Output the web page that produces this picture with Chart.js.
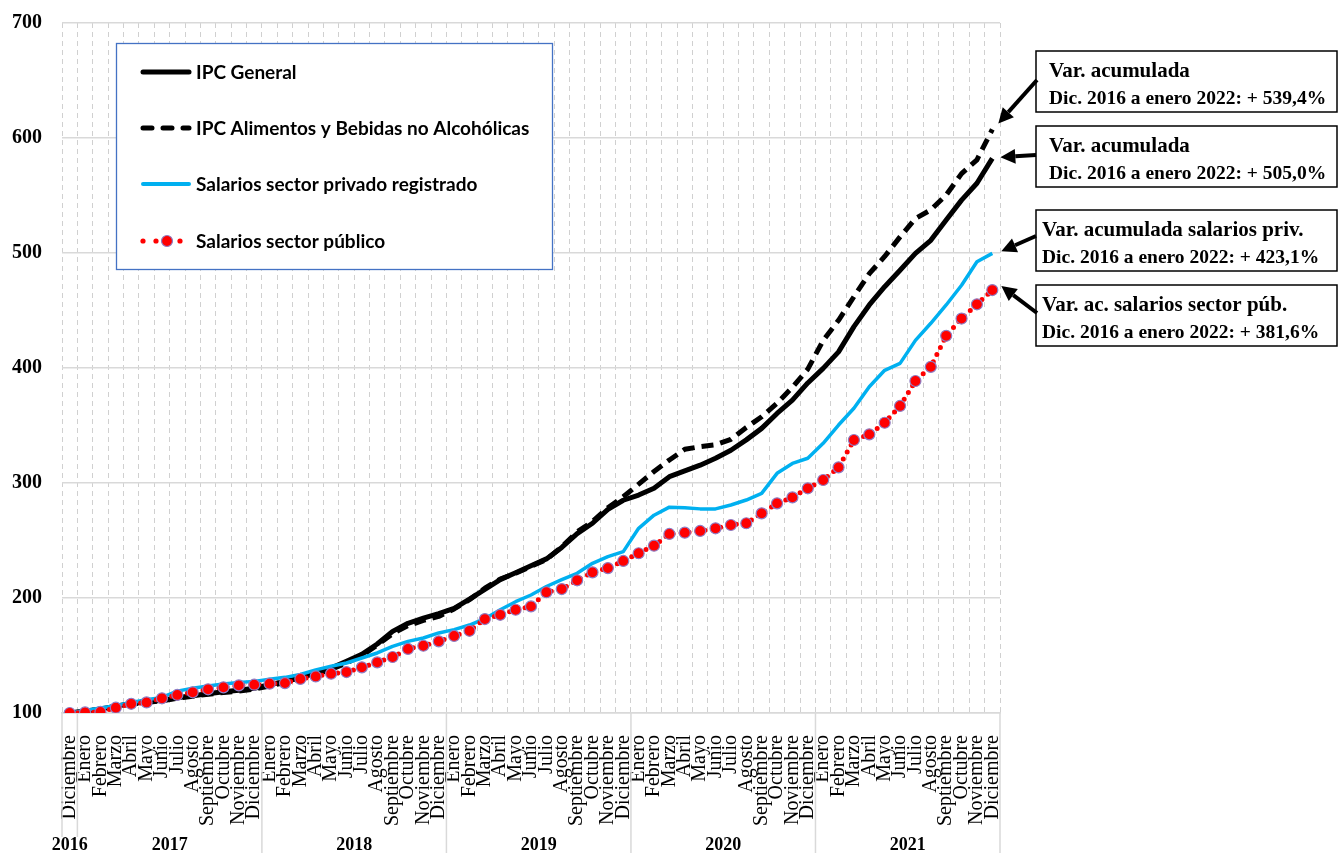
<!DOCTYPE html>
<html>
<head>
<meta charset="utf-8">
<script src="https://cdn.jsdelivr.net/npm/chart.js@4.4.1/dist/chart.umd.min.js"></script>
<style>
  html, body { margin: 0; padding: 0; background: #ffffff; }
  #wrap { width: 1340px; height: 853px; }
</style>
</head>
<body>
<div id="wrap"><canvas id="chart" width="1340" height="853"></canvas></div>
<script>
// ---- Categories ----
const monthNames = ['Enero', 'Febrero', 'Marzo', 'Abril', 'Mayo', 'Junio', 'Julio',
  'Agosto', 'Septiembre', 'Octubre', 'Noviembre', 'Diciembre'];
const years = ['2016', '2017', '2018', '2019', '2020', '2021'];
const monthsPerYear = [1, 12, 12, 12, 12, 12];
const categories = years.flatMap((y, k) => monthNames.slice(12 - monthsPerYear[k]));

// ---- Index values, Dic. 2016 = 100 ----
const ipcGeneral = [
  100,
  101.5, 103.5, 105.8, 108.2, 109.6, 111.0, 113.2, 115.0, 116.8, 118.5, 119.8, 121.5,
  124.6, 127.5, 130.4, 134.8, 139.1, 144.9, 151.0, 160.0, 171.0, 178.0, 182.5, 186.5,
  191.0, 199.0, 207.5, 216.0, 222.0, 228.0, 234.0, 244.0, 256.0, 265.0, 277.0, 285.0,
  289.5, 295.5, 305.5, 310.5, 315.5, 321.5, 328.5, 337.5, 347.5, 360.5, 372.0, 387.0,
  399.7, 414.0, 436.0, 454.8, 470.7, 485.0, 499.7, 511.0, 528.7, 546.0, 560.6, 582.3
];
const ipcAlimentos = [
  100,
  101.3, 103.2, 105.6, 107.9, 109.2, 110.6, 112.8, 114.6, 116.3, 117.8, 119.0, 120.8,
  123.5, 126.5, 129.5, 133.5, 138.0, 143.5, 150.0, 159.0, 169.0, 176.0, 180.5, 184.0,
  190.5, 198.5, 208.5, 216.5, 221.5, 227.5, 233.5, 244.5, 257.5, 266.5, 278.5, 288.0,
  299.0, 310.0, 320.0, 329.3, 331.6, 333.2, 338.0, 348.3, 357.6, 369.3, 383.2, 399.0,
  424.0, 441.5, 462.0, 482.0, 497.0, 514.0, 530.0, 537.5, 550.5, 569.0, 581.0, 607.5
];
const salPrivado = [
  100,
  102.3, 104.3, 106.3, 109.2, 111.6, 113.6, 119.0, 121.5, 123.5, 125.3, 126.5, 127.5,
  129.3, 131.0, 133.5, 137.5, 140.6, 143.5, 147.8, 152.2, 158.0, 162.3, 165.2, 169.6,
  172.5, 176.5, 182.0, 189.8, 196.8, 202.6, 210.0, 215.9, 221.5, 230.2, 236.0, 240.3,
  260.6, 272.0, 279.0, 278.5, 277.5, 277.5, 280.9, 285.2, 291.0, 308.4, 317.0, 321.5,
  334.5, 350.4, 365.0, 383.7, 398.0, 404.0, 424.0, 438.9, 454.8, 472.0, 492.4, 499.7
];
const salPublico = [
  100,
  100.5, 100.9, 104.6, 108.0, 109.2, 112.8, 115.7, 118.0, 120.6, 122.3, 124.0, 124.6,
  125.5, 126.0, 129.6, 131.8, 134.2, 135.6, 139.7, 144.0, 148.7, 155.7, 158.5, 162.3,
  167.0, 171.5, 181.7, 185.4, 189.8, 192.7, 205.0, 207.8, 215.4, 222.3, 226.0, 232.2,
  238.9, 245.5, 255.7, 256.8, 258.3, 260.6, 263.5, 265.0, 273.6, 282.3, 287.5, 295.4,
  302.6, 313.6, 337.4, 342.3, 352.4, 367.0, 388.7, 401.0, 428.0, 443.0, 455.4, 467.8
];

// ---- Axis ticks ----
const yTicks = [100, 200, 300, 400, 500, 600, 700];

// ---- Series names and callout texts ----
const seriesNames = ['IPC General', 'IPC Alimentos y Bebidas no Alcohólicas',
  'Salarios sector privado registrado', 'Salarios sector público'];
const calloutTitles = ['Var. acumulada', 'Var. acumulada',
  'Var. acumulada salarios priv.', 'Var. ac. salarios sector púb.'];
const calloutDetails = ['Dic. 2016 a enero 2022: + 539,4%', 'Dic. 2016 a enero 2022: + 505,0%',
  'Dic. 2016 a enero 2022: + 423,1%', 'Dic. 2016 a enero 2022: + 381,6%'];
const calloutSeries = [1, 0, 2, 3];   // dataset each callout points to

const SERIF = '"Liberation Serif", "Times New Roman", serif';
const SANS = 'Lato, "Open Sans", sans-serif';

// Legend panel drawn inside the plot
function drawLegend(chart) {
  const ctx = chart.ctx;
  const box = { x: 116, y: 43, w: 436, h: 226 };
  const rows = [72, 128, 184, 241];
  ctx.save();
  ctx.fillStyle = '#ffffff';
  ctx.fillRect(box.x, box.y, box.w, box.h);
  ctx.strokeStyle = '#4472c4';
  ctx.lineWidth = 1.3;
  ctx.strokeRect(box.x + 0.5, box.y + 0.5, box.w, box.h);
  const x0 = 141, x1 = 191;
  chart.data.datasets.forEach((ds, i) => {
    const y = rows[i];
    ctx.save();
    if (i < 3) {
      ctx.beginPath();
      ctx.strokeStyle = ds.borderColor;
      ctx.lineWidth = i === 2 ? 4 : 5;
      ctx.lineCap = 'round';
      ctx.setLineDash(i === 1 ? [9, 11] : []);
      ctx.moveTo(x0 + 2, y);
      ctx.lineTo(x1 - 2, y);
      ctx.stroke();
    } else {
      ctx.fillStyle = ds.borderColor;
      [143, 156, 180].forEach(cx => {
        ctx.beginPath(); ctx.arc(cx, y, 2.6, 0, Math.PI * 2); ctx.fill();
      });
      ctx.beginPath();
      ctx.arc(167, y, 5.5, 0, Math.PI * 2);
      ctx.fillStyle = ds.pointBackgroundColor;
      ctx.fill();
      ctx.lineWidth = 1.2;
      ctx.strokeStyle = ds.pointBorderColor;
      ctx.stroke();
    }
    ctx.restore();
    ctx.fillStyle = '#000000';
    ctx.font = 'bold 19px ' + SANS;
    ctx.textAlign = 'left';
    ctx.textBaseline = 'middle';
    ctx.fillText(ds.label, 196, y + 1);
  });
  ctx.restore();
}

// Year bands under the month labels
function drawYears(chart) {
  const ctx = chart.ctx, xs = chart.scales.x, area = chart.chartArea;
  const step = xs.getPixelForValue(1) - xs.getPixelForValue(0);
  const edges = [];
  const centers = [];
  let start = 0;
  years.forEach((y, k) => {
    const end = start + monthsPerYear[k] - 1;
    const a = xs.getPixelForValue(start) - step / 2;
    const b = xs.getPixelForValue(end) + step / 2;
    edges.push(a);
    if (k === years.length - 1) edges.push(b);
    centers.push((a + b) / 2);
    start = end + 1;
  });
  ctx.save();
  ctx.strokeStyle = '#d9d9d9';
  ctx.lineWidth = 1.5;
  edges.forEach(x => {
    ctx.beginPath();
    ctx.moveTo(x, area.bottom);
    ctx.lineTo(x, chart.height);
    ctx.stroke();
  });
  ctx.font = 'bold 18px ' + SERIF;
  ctx.textAlign = 'center';
  ctx.textBaseline = 'middle';
  years.forEach((y, k) => {
    const w = ctx.measureText(y).width;
    ctx.fillStyle = '#ffffff';
    ctx.fillRect(centers[k] - w / 2 - 1, 837, w + 2, 16);
    ctx.fillStyle = '#000000';
    ctx.fillText(y, centers[k], 845);
  });
  ctx.restore();
}

function arrow(ctx, x1, y1, x2, y2) {
  const ang = Math.atan2(y2 - y1, x2 - x1);
  const head = 15, half = 7.5;
  const bx = x2 - head * Math.cos(ang), by = y2 - head * Math.sin(ang);
  ctx.beginPath();
  ctx.moveTo(x1, y1);
  ctx.lineTo(bx, by);
  ctx.lineWidth = 4;
  ctx.strokeStyle = '#000000';
  ctx.stroke();
  ctx.beginPath();
  ctx.moveTo(x2, y2);
  ctx.lineTo(bx + half * Math.sin(ang), by - half * Math.cos(ang));
  ctx.lineTo(bx - half * Math.sin(ang), by + half * Math.cos(ang));
  ctx.closePath();
  ctx.fillStyle = '#000000';
  ctx.fill();
}

// Callout boxes with arrows toward the last point of each series
function drawCallouts(chart) {
  const ctx = chart.ctx, xs = chart.scales.x, ys = chart.scales.y;
  const boxTops = [51, 126, 210, 285];
  const textLeft = [1049, 1049, 1042, 1042];
  const tails = [[1037, 80], [1036, 155], [1036, 236], [1037, 313]];
  const tipOffsets = [[6, -6], [8, -1], [9, -2], [9, -4]];
  const left = 1036, right = 1337, h = 61;
  ctx.save();
  calloutTitles.forEach((t, k) => {
    const top = boxTops[k];
    ctx.fillStyle = '#ffffff';
    ctx.fillRect(left, top, right - left, h);
    ctx.lineWidth = 1.5;
    ctx.strokeStyle = '#000000';
    ctx.strokeRect(left, top, right - left, h);
    ctx.fillStyle = '#000000';
    ctx.textAlign = 'left';
    ctx.textBaseline = 'alphabetic';
    ctx.font = 'bold 21px ' + SERIF;
    ctx.fillText(t, textLeft[k], top + 26);
    ctx.font = 'bold 19.5px ' + SERIF;
    ctx.fillText(calloutDetails[k], textLeft[k], top + 53);

    const ds = chart.data.datasets[calloutSeries[k]];
    const last = ds.data.length - 1;
    const px = xs.getPixelForValue(last) + tipOffsets[k][0];
    const py = ys.getPixelForValue(ds.data[last]) + tipOffsets[k][1];
    arrow(ctx, tails[k][0], tails[k][1], px, py);
  });
  ctx.restore();
}

const decor = {
  id: 'decor',
  afterDraw(chart) {
    drawLegend(chart);
    drawYears(chart);
    drawCallouts(chart);
  }
};

new Chart(document.getElementById('chart'), {
  type: 'line',
  data: {
    labels: categories,
    datasets: [
      {
        label: seriesNames[0], data: ipcGeneral,
        borderColor: '#000000', borderWidth: 5, pointRadius: 0, order: 3
      },
      {
        label: seriesNames[1], data: ipcAlimentos,
        borderColor: '#000000', borderWidth: 5, borderDash: [12, 7], pointRadius: 0, order: 2
      },
      {
        label: seriesNames[2], data: salPrivado,
        borderColor: '#00b0f0', borderWidth: 3.5, pointRadius: 0, order: 1
      },
      {
        label: seriesNames[3], data: salPublico,
        borderColor: '#ff0000', borderWidth: 5, borderDash: [0, 8], borderCapStyle: 'round',
        pointRadius: 5.5, pointBackgroundColor: '#ff0000', pointBorderColor: '#8e7cc3',
        pointBorderWidth: 1.2, order: 0
      }
    ]
  },
  options: {
    responsive: false,
    animation: false,
    devicePixelRatio: 1,
    layout: { padding: { top: 23, right: 340, left: 0, bottom: 0 } },
    plugins: { legend: { display: false }, tooltip: { enabled: false } },
    elements: { line: { tension: 0, borderJoinStyle: 'round' } },
    scales: {
      x: {
        offset: true,
        grid: { offset: true, color: '#d0d0d0', lineWidth: 1, drawTicks: false },
        border: { display: true, color: '#d9d9d9', width: 1.5, dash: [5, 4] },
        ticks: {
          autoSkip: false, maxRotation: 90, minRotation: 90, padding: 22,
          color: '#000000', font: { family: SERIF, size: 20 }
        },
        afterFit(scale) { scale.height = 140; }
      },
      y: {
        min: 100, max: 700,
        afterBuildTicks(scale) { scale.ticks = yTicks.map(v => ({ value: v })); },
        grid: { color: '#d9d9d9', lineWidth: 1.5, drawTicks: false },
        border: { display: false },
        ticks: {
          padding: 20, color: '#000000',
          font: { family: SERIF, size: 20, weight: 'bold' }
        },
        afterFit(scale) {
          scale.width = 62;
          // keep the top tick label from pushing the plot area down
          scale.paddingTop = 0;
          scale.paddingBottom = 0;
        }
      }
    }
  },
  plugins: [decor]
});
</script>
</body>
</html>
